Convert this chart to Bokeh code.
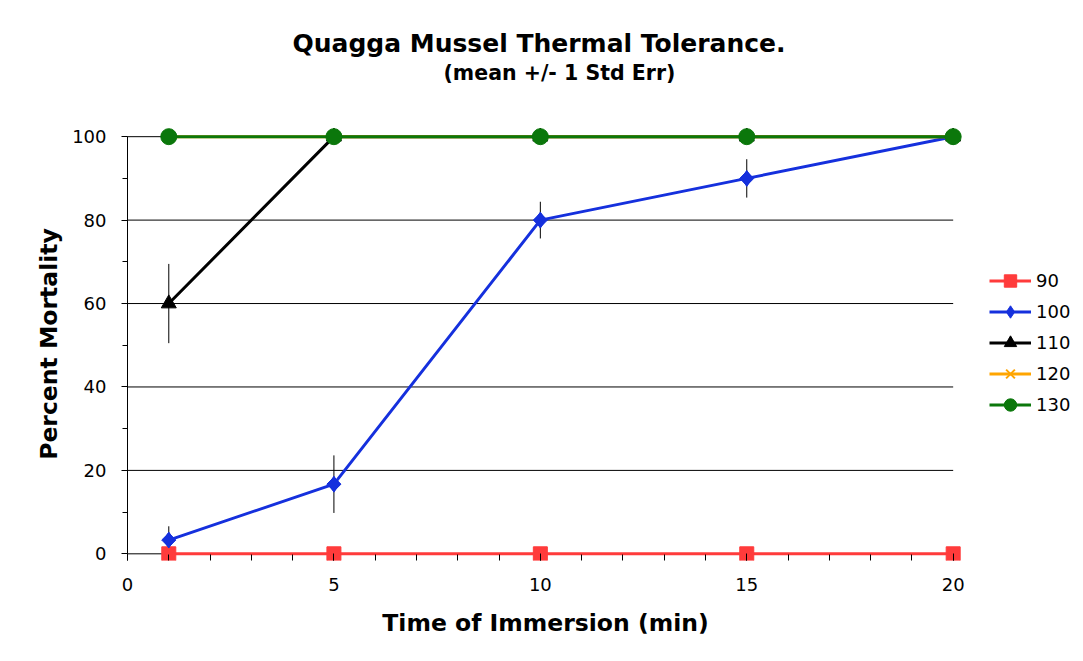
import math
from bokeh.plotting import figure
from bokeh.models import Range1d, FixedTicker, Legend, LegendItem, Title
from bokeh.embed import file_html
from bokeh.resources import INLINE

# ---- data ----
times = [1, 5, 10, 15, 20]
series_names = ["90", "100", "110", "120", "130"]
mort_90 = [0, 0, 0, 0, 0]
mort_100 = [3.3, 16.7, 80, 90, 100]
mort_110 = [60, 100, 100, 100, 100]
mort_120 = [100, 100, 100, 100, 100]
mort_130 = [100, 100, 100, 100, 100]
se_100 = [3.3, 6.9, 4.4, 4.6, 0]
se_110 = [9.5, 0, 0, 0, 0]
x_ticks = [0, 5, 10, 15, 20]
x_minor = list(range(0, 21))
y_ticks = [0, 20, 40, 60, 80, 100]
y_minor = list(range(0, 101, 10))
grid_levels = [0, 20, 40, 60, 80, 100]

FONT = "DejaVu Sans"

p = figure(frame_width=836, frame_height=433,
           min_border_left=127, min_border_top=127, min_border_right=105, min_border_bottom=86,
           x_range=Range1d(0, 20.25), y_range=Range1d(-1.6, 102.2),
           title=None, output_backend="svg", toolbar_location=None)
p.outline_line_color = None
p.xgrid.visible = False
p.ygrid.visible = False
p.background_fill_color = "white"
p.border_fill_color = "white"

# horizontal grid lines (incl. the zero line that acts as the x axis line)
p.segment(x0=[x_ticks[0]] * len(grid_levels), x1=[x_ticks[-1]] * len(grid_levels),
          y0=grid_levels, y1=grid_levels, line_color="black", line_width=1)

# axes
for ax in (p.xaxis[0], p.yaxis[0]):
    ax.axis_line_color = "black"
    ax.axis_line_width = 1
    ax.major_tick_line_color = "black"
    ax.minor_tick_line_color = "black"
    ax.major_label_text_font = FONT
    ax.major_label_text_font_size = "18px"
    ax.major_label_text_color = "black"
    ax.axis_label_text_font = FONT
    ax.axis_label_text_font_size = "23.5px"
    ax.axis_label_text_font_style = "bold"
    ax.axis_label_text_color = "black"

p.yaxis.major_tick_in = 0
p.yaxis.major_tick_out = 6
p.yaxis.minor_tick_in = 0
p.yaxis.minor_tick_out = 5
p.yaxis.major_label_standoff = 15
p.yaxis.axis_label_standoff = 6

# x axis sits at the frame bottom just below zero: ticks point up to the zero line
p.xaxis.axis_line_color = None
p.xaxis.major_tick_in = 7
p.xaxis.major_tick_out = 0
p.xaxis.minor_tick_in = 6
p.xaxis.minor_tick_out = 0
p.xaxis.major_label_standoff = 17
p.xaxis.axis_label_standoff = 15

p.xaxis.ticker = FixedTicker(ticks=x_ticks, minor_ticks=x_minor)
p.yaxis.ticker = FixedTicker(ticks=y_ticks, minor_ticks=y_minor)
p.xaxis.bounds = (0, 20)
p.yaxis.bounds = (0, 100)
p.xaxis.axis_label = "Time of Immersion (min)"
p.yaxis.axis_label = "Percent Mortality"

# error bars
p.segment(x0=times, x1=times, y0=[m - s for m, s in zip(mort_100, se_100)],
          y1=[m + s for m, s in zip(mort_100, se_100)], line_color="black", line_width=1)
p.segment(x0=times, x1=times, y0=[m - s for m, s in zip(mort_110, se_110)],
          y1=[m + s for m, s in zip(mort_110, se_110)], line_color="black", line_width=1)

styles = [
    (mort_90, "#FF3B3B", "square", 14),
    (mort_100, "#1530DD", "diamond", 16),
    (mort_110, "#000000", "triangle", 15),
    (mort_120, "#FFA500", "x", 15),
    (mort_130, "#0B770B", "circle", 16),
]
items = []
for name, (vals, col, mk, sz) in zip(series_names, styles):
    r1 = p.line(times, vals, line_color=col, line_width=3)
    if mk == "x":
        r2 = p.scatter(times, vals, marker=mk, size=sz, line_color=col, line_width=2)
    else:
        r2 = p.scatter(times, vals, marker=mk, size=sz, fill_color=col, line_color=col)
        if mk == "diamond":
            # widen the diamond with a rotated square on top
            p.scatter(times, vals, marker="square", size=10, angle=math.pi / 4,
                      fill_color=col, line_color=col)
    items.append(LegendItem(label=name, renderers=[r1, r2]))

legend = Legend(items=items, location=(26, 140), margin=0, padding=0,
                glyph_width=42, glyph_height=31, label_height=20, spacing=0,
                label_standoff=5, label_text_font=FONT, label_text_font_size="18px",
                label_text_color="black", border_line_color=None,
                background_fill_alpha=0)
p.add_layout(legend, "right")

spacer = Title(text=" ", standoff=39, text_font=FONT, text_font_size="1px")
subtitle = Title(text="(mean +/- 1 Std Err)", align="left", offset=316, standoff=2,
                 text_font=FONT, text_font_size="20.5px", text_font_style="bold",
                 text_color="black")
title = Title(text="Quagga Mussel Thermal Tolerance.", align="left", offset=165, standoff=0,
              text_font=FONT, text_font_size="25px", text_font_style="bold",
              text_color="black")
p.add_layout(spacer, "above")
p.add_layout(subtitle, "above")
p.add_layout(title, "above")

open("out.html", "w").write(file_html(p, INLINE))
